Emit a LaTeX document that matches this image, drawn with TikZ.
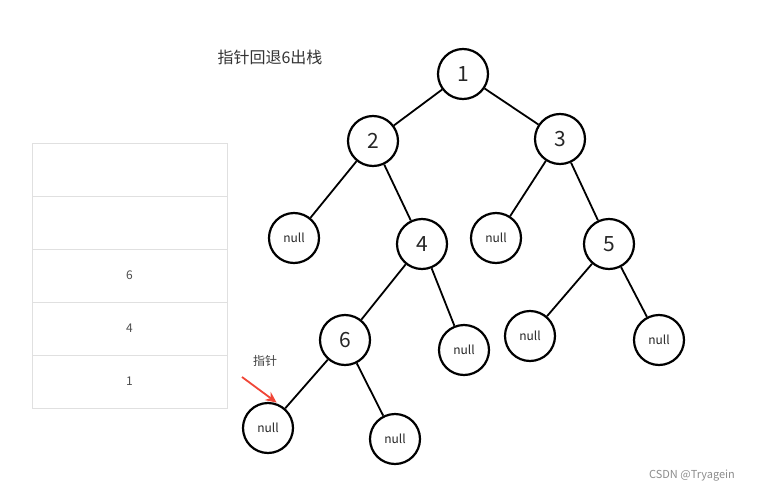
\documentclass[tikz,border=0pt]{standalone}
\usepackage{fontspec}
\setmainfont{Noto Sans CJK SC}
\usepackage{tikz}
\usetikzlibrary{positioning, arrows.meta}

\tikzset{
  treenode/.style={circle, draw=black, line width=2.2pt, minimum size=50pt, inner sep=0pt, font=\fontsize{21}{21}\selectfont, text=black!85},
  nullnode/.style={treenode, font=\fontsize{12}{12}\selectfont},
  edge/.style={line width=1.8pt, draw=black},
  stackcell/.style={draw=black!12, line width=1pt, minimum width=195pt, minimum height=53pt, inner sep=0pt, font=\fontsize{12}{12}\selectfont, text=black!70}
}

\begin{document}
\begin{tikzpicture}[x=1pt, y=-1pt]
\useasboundingbox (0,0) rectangle (761,490);
% title
\node[font=\fontsize{16}{16}\selectfont, text=black!80] (title) at (270,57) {指针回退6出栈};
% tree
\node[treenode] (n1) at (463,74) {1};
\node[treenode] (n2) at (373,141) {2};
\node[treenode] (n3) at (560,139) {3};
\node[nullnode] (n2l) at (294,238) {null};
\node[treenode] (n4) at (422,244) {4};
\node[nullnode] (n3l) at (496,238) {null};
\node[treenode] (n5) at (609,244) {5};
\node[treenode] (n6) at (345,340) {6};
\node[nullnode] (n4r) at (464,350) {null};
\node[nullnode] (n5l) at (530,336) {null};
\node[nullnode] (n5r) at (659,340) {null};
\node[nullnode] (n6l) at (268,428) {null};
\node[nullnode] (n6r) at (395,439) {null};
\draw[edge] (n1) -- (n2);
\draw[edge] (n1) -- (n3);
\draw[edge] (n2) -- (n2l);
\draw[edge] (n2) -- (n4);
\draw[edge] (n3) -- (n3l);
\draw[edge] (n3) -- (n5);
\draw[edge] (n4) -- (n6);
\draw[edge] (n4) -- (n4r);
\draw[edge] (n5) -- (n5l);
\draw[edge] (n5) -- (n5r);
\draw[edge] (n6) -- (n6l);
\draw[edge] (n6) -- (n6r);
% stack
\node[stackcell] (s5) at (129.5,169.5) {};
\node[stackcell] (s4) at (129.5,222.5) {};
\node[stackcell] (s3) at (129.5,275.5) {6};
\node[stackcell] (s2) at (129.5,328.5) {4};
\node[stackcell] (s1) at (129.5,381.5) {1};
% pointer
\node[font=\fontsize{12}{12}\selectfont, text=black!75] (ptr) at (265,361) {指针};
\coordinate (ptrtail) at (242,377);
\draw[-{Stealth[length=11pt, width=10pt]}, line width=1.8pt, shorten >=3pt, draw={rgb,255:red,240;green,70;blue,55}] (ptrtail) -- (n6l.65);
% watermark
\node[font=\fontsize{11}{11}\selectfont, text=black!45] (mark) at (692,476) {CSDN @Tryagein};
\end{tikzpicture}
\end{document}
